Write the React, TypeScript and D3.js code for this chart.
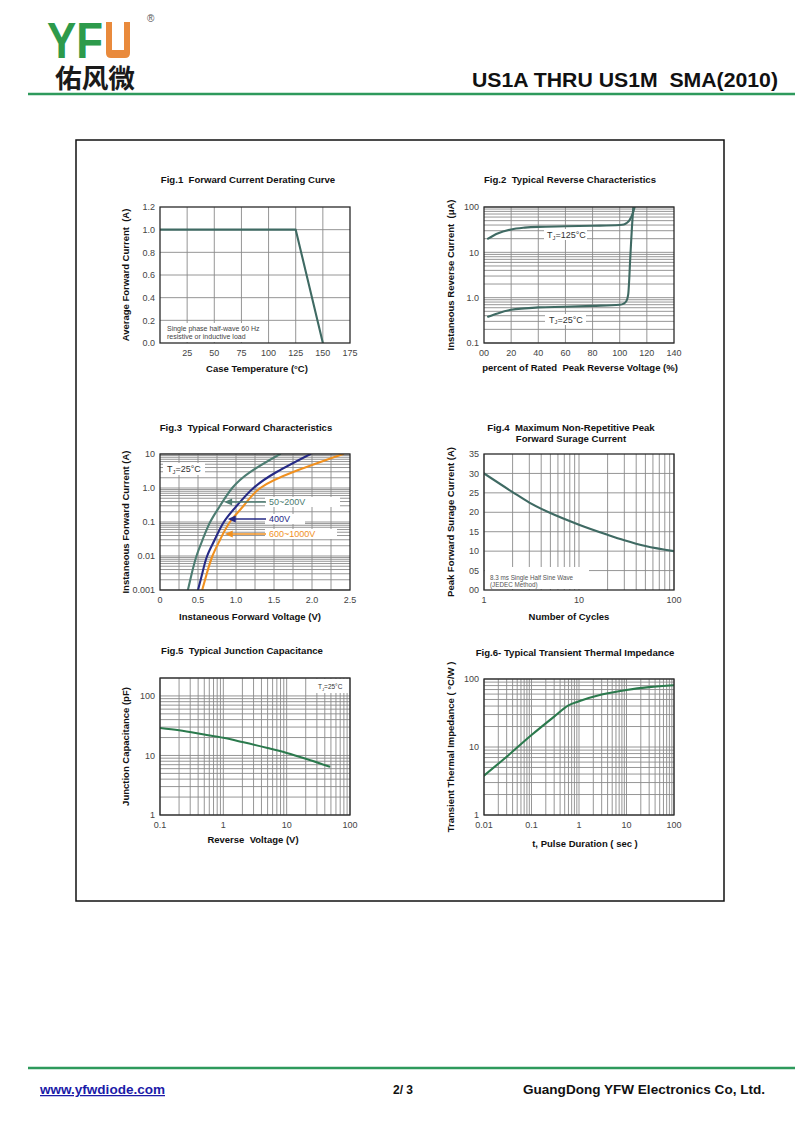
import React from 'react';
import * as d3 from 'd3';

// ---------- DATA ----------
// Fig.1 Forward current derating
const fig1Temp = [0, 125, 150];
const fig1Current = [1.0, 1.0, 0.0];
const fig1XTicks = [25, 50, 75, 100, 125, 150, 175];
const fig1YTicks = [0, 0.2, 0.4, 0.6, 0.8, 1.0, 1.2];
const fig1YLabels = ['0.0', '0.2', '0.4', '0.6', '0.8', '1.0', '1.2'];

// Fig.2 Typical reverse characteristics
const fig2Pct125 = [3, 10, 20, 30, 40, 60, 80, 100, 103, 105, 107, 108.5, 110, 111];
const fig2Cur125 = [20, 26, 32, 35, 36.5, 37.5, 38.5, 40, 41, 44, 50, 60, 78, 100];
const fig2Pct25 = [3, 10, 20, 30, 40, 60, 80, 100, 103, 105, 106.3, 107, 107.6, 108.3, 109, 110];
const fig2Cur25 = [0.38, 0.45, 0.54, 0.58, 0.61, 0.63, 0.66, 0.7, 0.74, 0.85, 1.2, 2.5, 6, 15, 35, 100];
const fig2XTicks = [0, 20, 40, 60, 80, 100, 120, 140];
const fig2XLabels = ['00', '20', '40', '60', '80', '100', '120', '140'];
const fig2YTicks = [0.1, 1, 10, 100];
const fig2YLabels = ['0.1', '1.0', '10', '100'];

// Fig.3 Typical forward characteristics
const fig3Amps = [0.001, 0.003, 0.01, 0.03, 0.1, 0.3, 1, 3, 10];
const fig3VoltsLow = [0.367, 0.417, 0.48, 0.56, 0.66, 0.79, 0.95, 1.19, 1.58];
const fig3Volts400 = [0.5, 0.555, 0.62, 0.72, 0.84, 1.01, 1.23, 1.54, 1.98];
const fig3VoltsHigh = [0.555, 0.615, 0.69, 0.79, 0.92, 1.1, 1.32, 1.76, 2.41];
const fig3XTicks = [0, 0.5, 1.0, 1.5, 2.0, 2.5];
const fig3XLabels = ['0', '0.5', '1.0', '1.5', '2.0', '2.5'];
const fig3YTicks = [0.001, 0.01, 0.1, 1, 10];
const fig3YLabels = ['0.001', '0.01', '0.1', '1.0', '10'];
const fig3Legend = ['50~200V', '400V', '600~1000V'];

// Fig.4 Max non-repetitive peak forward surge current
const fig4Cycles = [1, 2, 3, 5, 10, 20, 30, 50, 100];
const fig4Amps = [30, 25.2, 22.5, 19.8, 16.8, 14.2, 12.8, 11.3, 10];
const fig4XTicks = [1, 10, 100];
const fig4YTicks = [0, 5, 10, 15, 20, 25, 30, 35];
const fig4YLabels = ['00', '05', '10', '15', '20', '25', '30', '35'];

// Fig.5 Typical junction capacitance
const fig5Volts = [0.1, 0.2, 0.5, 1, 2, 5, 10, 20, 47];
const fig5Cap = [29, 26.5, 22.5, 19.8, 16.8, 13.3, 11, 8.8, 6.5];
const fig5XTicks = [0.1, 1, 10, 100];
const fig5YTicks = [1, 10, 100];

// Fig.6 Typical transient thermal impedance
const fig6Time = [0.01, 0.03, 0.1, 0.3, 0.6, 1, 3, 10, 30, 100];
const fig6Imp = [3.8, 7.2, 15, 28, 41, 47, 59, 69, 76, 81];
const fig6XTicks = [0.01, 0.1, 1, 10, 100];
const fig6YTicks = [1, 10, 100];

// ---------- STYLE ----------
const FONT = "'Liberation Sans', Arial, Helvetica, sans-serif";
const GRID = '#8a8a8a';
const CURVE = '#3f6a63';
const GREEN_CURVE = '#2b7a4d';
const F3_GREEN = '#4d7d72';
const F3_BLUE = '#262a86';
const F3_ORANGE = '#f0901f';

type Scale = any;
type Series = { xs: number[]; ys: number[]; color: string; kind?: 'linear' | 'mono' | 'smooth' };

interface PanelCfg {
  id: string;
  x0: number; x1: number; y0: number; y1: number;
  xLog: boolean; yLog: boolean;
  xDomain: [number, number]; yDomain: [number, number];
  xGrid: (sx: Scale) => number[];
  yGrid: (sy: Scale) => number[];
  xTicks: number[]; xLabels: string[];
  yTicks: number[]; yLabels: string[];
  title: string[]; titleX: number; titleY: number;
  xTitle: string; xTitleX: number; xTitleY: number;
  yTitle: string; yTitleX: number;
  series: Series[];
  back?: (sx: Scale, sy: Scale) => React.ReactNode;
  front?: (sx: Scale, sy: Scale) => React.ReactNode;
}

function Panel({ c }: { c: PanelCfg }) {
  const sx = (c.xLog ? d3.scaleLog() : d3.scaleLinear()).domain(c.xDomain).range([c.x0, c.x1]);
  const sy = (c.yLog ? d3.scaleLog() : d3.scaleLinear()).domain(c.yDomain).range([c.y1, c.y0]);
  const clip = `clip-${c.id}`;
  return (
    <g>
      <defs>
        <clipPath id={clip}>
          <rect x={c.x0} y={c.y0} width={c.x1 - c.x0} height={c.y1 - c.y0} />
        </clipPath>
      </defs>
      {c.title.map((t, i) => (
        <text key={i} x={c.titleX} y={c.titleY + i * 10.5} textAnchor="middle" fontFamily={FONT}
          fontWeight="bold" fontSize={9.6} fill="#111" xmlSpace="preserve">{t}</text>
      ))}
      <rect x={c.x0} y={c.y0} width={c.x1 - c.x0} height={c.y1 - c.y0} fill="#fff" />
      {c.xGrid(sx).map((v, i) => (
        <line key={'gx' + i} x1={sx(v)} x2={sx(v)} y1={c.y0} y2={c.y1} stroke={GRID} strokeWidth={0.9} />
      ))}
      {c.yGrid(sy).map((v, i) => (
        <line key={'gy' + i} x1={c.x0} x2={c.x1} y1={sy(v)} y2={sy(v)} stroke={GRID} strokeWidth={0.9} />
      ))}
      {c.back ? c.back(sx, sy) : null}
      <g clipPath={`url(#${clip})`}>
        {c.series.map((s, i) => {
          const curve = s.kind === 'linear' ? d3.curveLinear
            : s.kind === 'smooth' ? d3.curveNatural : d3.curveMonotoneX;
          const line = d3.line<number>()
            .x((_, k) => sx(s.xs[k]))
            .y((_, k) => sy(s.ys[k]))
            .curve(curve);
          return <path key={i} d={line(s.xs) || ''} fill="none" stroke={s.color} strokeWidth={2.1}
            strokeLinejoin="round" strokeLinecap="round" />;
        })}
      </g>
      <rect x={c.x0} y={c.y0} width={c.x1 - c.x0} height={c.y1 - c.y0} fill="none" stroke="#2a2a2a" strokeWidth={1.3} />
      {c.xTicks.map((v, i) => (
        <text key={'tx' + i} x={sx(v)} y={c.y1 + 12.5} textAnchor="middle" fontFamily={FONT}
          fontSize={9} fill="#444">{c.xLabels[i]}</text>
      ))}
      {c.yTicks.map((v, i) => (
        <text key={'ty' + i} x={c.x0 - 5} y={sy(v) + 3.2} textAnchor="end" fontFamily={FONT}
          fontSize={9} fill="#444">{c.yLabels[i]}</text>
      ))}
      <text x={c.xTitleX} y={c.xTitleY} textAnchor="middle" fontFamily={FONT} fontWeight="bold"
        fontSize={9.5} fill="#111" xmlSpace="preserve">{c.xTitle}</text>
      <text transform={`translate(${c.yTitleX},${(c.y0 + c.y1) / 2}) rotate(-90)`} textAnchor="middle"
        dominantBaseline="central" fontFamily={FONT} fontWeight="bold" fontSize={9.5} fill="#111"
        xmlSpace="preserve">{c.yTitle}</text>
      {c.front ? c.front(sx, sy) : null}
    </g>
  );
}

function TJ({ x, y, t, size }: { x: number; y: number; t: string; size: number }) {
  return (
    <text x={x} y={y} fontFamily={FONT} fontSize={size} fill="#333">
      T<tspan fontSize={size * 0.65} dy={1.5}>J</tspan><tspan dy={-1.5}>{t}</tspan>
    </text>
  );
}

// invert a log-y series at a given y value (piecewise in log space)
function xAtY(xs: number[], ys: number[], yv: number) {
  for (let i = 0; i < xs.length - 1; i++) {
    if (ys[i] <= yv && ys[i + 1] >= yv) {
      const t = (Math.log(yv) - Math.log(ys[i])) / (Math.log(ys[i + 1]) - Math.log(ys[i]));
      return xs[i] + t * (xs[i + 1] - xs[i]);
    }
  }
  return xs[0];
}

const logGrid = (s: Scale) => s.ticks();

const panels: PanelCfg[] = [
  {
    id: 'f1', x0: 160, x1: 350, y0: 207, y1: 343, xLog: false, yLog: false,
    xDomain: [0, 175], yDomain: [0, 1.2],
    xGrid: () => fig1XTicks.slice(0, -1), yGrid: () => fig1YTicks.slice(1, -1),
    xTicks: fig1XTicks, xLabels: fig1XTicks.map(String),
    yTicks: fig1YTicks, yLabels: fig1YLabels,
    title: ['Fig.1  Forward Current Derating Curve'], titleX: 248, titleY: 183,
    xTitle: 'Case Temperature (°C)', xTitleX: 257, xTitleY: 371.5,
    yTitle: 'Average Forward Current  (A)', yTitleX: 125,
    series: [{ xs: fig1Temp, ys: fig1Current, color: CURVE, kind: 'linear' }],
    back: () => <rect x={161} y={323} width={106} height={19} fill="#fff" />,
    front: () => (
      <g fontFamily={FONT} fontSize={7} fill="#444">
        <text x={167} y={330.5}>Single phase half-wave 60 Hz</text>
        <text x={167} y={338.5}>resistive or inductive load</text>
      </g>
    ),
  },
  {
    id: 'f2', x0: 484, x1: 674, y0: 207, y1: 343, xLog: false, yLog: true,
    xDomain: [0, 140], yDomain: [0.1, 100],
    xGrid: () => fig2XTicks.slice(1, -1), yGrid: logGrid,
    xTicks: fig2XTicks, xLabels: fig2XLabels,
    yTicks: fig2YTicks, yLabels: fig2YLabels,
    title: ['Fig.2  Typical Reverse Characteristics'], titleX: 570, titleY: 183,
    xTitle: 'percent of Rated  Peak Reverse Voltage (%)', xTitleX: 580, xTitleY: 371,
    yTitle: 'Instaneous Reverse Current  (μA)', yTitleX: 450,
    series: [
      { xs: fig2Pct125, ys: fig2Cur125, color: CURVE },
      { xs: fig2Pct25, ys: fig2Cur25, color: CURVE },
    ],
    back: () => (
      <g fill="#fff">
        <rect x={544} y={229} width={43} height={11} />
        <rect x={545} y={314} width={41} height={11} />
      </g>
    ),
    front: () => (
      <g>
        <TJ x={547} y={238} t="=125°C" size={9} />
        <TJ x={549} y={322.5} t="=25°C" size={9} />
      </g>
    ),
  },
  {
    id: 'f3', x0: 160, x1: 350, y0: 454, y1: 590, xLog: false, yLog: true,
    xDomain: [0, 2.5], yDomain: [0.001, 10],
    xGrid: () => d3.range(0.25, 2.5, 0.25), yGrid: logGrid,
    xTicks: fig3XTicks, xLabels: fig3XLabels,
    yTicks: fig3YTicks, yLabels: fig3YLabels,
    title: ['Fig.3  Typical Forward Characteristics'], titleX: 246, titleY: 431,
    xTitle: 'Instaneous Forward Voltage (V)', xTitleX: 250, xTitleY: 620,
    yTitle: 'Instaneous Forward Current (A)', yTitleX: 125,
    series: [
      { xs: fig3VoltsLow, ys: fig3Amps, color: F3_GREEN, kind: 'smooth' },
      { xs: fig3Volts400, ys: fig3Amps, color: F3_BLUE, kind: 'smooth' },
      { xs: fig3VoltsHigh, ys: fig3Amps, color: F3_ORANGE, kind: 'smooth' },
    ],
    back: () => (
      <g fill="#fff">
        <rect x={163} y={463} width={42} height={12} />
        <rect x={265} y={497} width={75} height={10} />
        <rect x={265} y={514} width={40} height={10} />
        <rect x={265} y={529} width={72} height={10} />
      </g>
    ),
    front: (sx, sy) => {
      const rows = [
        { y: 502, xs: fig3VoltsLow, color: F3_GREEN },
        { y: 519, xs: fig3Volts400, color: F3_BLUE },
        { y: 534, xs: fig3VoltsHigh, color: F3_ORANGE },
      ];
      return (
        <g>
          <TJ x={167} y={472} t="=25°C" size={9} />
          {rows.map((r, i) => {
            const tx = sx(xAtY(r.xs, fig3Amps, sy.invert(r.y))) + 1.5;
            return (
              <g key={i}>
                <line x1={tx + 6} x2={266} y1={r.y} y2={r.y} stroke={r.color} strokeWidth={1.6} />
                <polygon points={`${tx},${r.y} ${tx + 8},${r.y - 3.5} ${tx + 8},${r.y + 3.5}`} fill={r.color} />
                <text x={269} y={r.y + 3.2} fontFamily={FONT} fontSize={9} fill={r.color}>{fig3Legend[i]}</text>
              </g>
            );
          })}
        </g>
      );
    },
  },
  {
    id: 'f4', x0: 484, x1: 674, y0: 454, y1: 590, xLog: true, yLog: false,
    xDomain: [1, 100], yDomain: [0, 35],
    xGrid: logGrid, yGrid: () => fig4YTicks.slice(1, -1),
    xTicks: fig4XTicks, xLabels: fig4XTicks.map(String),
    yTicks: fig4YTicks, yLabels: fig4YLabels,
    title: ['Fig.4  Maximum Non-Repetitive Peak', 'Forward Surage Current'], titleX: 571, titleY: 431,
    xTitle: 'Number of Cycles', xTitleX: 569, xTitleY: 620,
    yTitle: 'Peak Forward Surage Current (A)', yTitleX: 450,
    series: [{ xs: fig4Cycles, ys: fig4Amps, color: CURVE }],
    back: () => <rect x={485} y={567} width={104} height={22} fill="#fff" />,
    front: () => (
      <g fontFamily={FONT} fontSize={6.3} fill="#555">
        <text x={490} y={580}>8.3 ms Single Half Sine Wave</text>
        <text x={490} y={587}>(JEDEC Method)</text>
      </g>
    ),
  },
  {
    id: 'f5', x0: 160, x1: 350, y0: 678, y1: 815, xLog: true, yLog: true,
    xDomain: [0.1, 100], yDomain: [1, 200],
    xGrid: logGrid, yGrid: logGrid,
    xTicks: fig5XTicks, xLabels: fig5XTicks.map(String),
    yTicks: fig5YTicks, yLabels: fig5YTicks.map(String),
    title: ['Fig.5  Typical Junction Capacitance'], titleX: 242, titleY: 654,
    xTitle: 'Reverse  Voltage (V)', xTitleX: 253, xTitleY: 843,
    yTitle: 'Junction Capacitance (pF)', yTitleX: 125,
    series: [{ xs: fig5Volts, ys: fig5Cap, color: GREEN_CURVE }],
    back: () => <rect x={313} y={679} width={36} height={14} fill="#fff" />,
    front: () => <TJ x={318} y={689} t="=25°C" size={6.5} />,
  },
  {
    id: 'f6', x0: 484, x1: 674, y0: 679, y1: 815, xLog: true, yLog: true,
    xDomain: [0.01, 100], yDomain: [1, 100],
    xGrid: logGrid, yGrid: logGrid,
    xTicks: fig6XTicks, xLabels: fig6XTicks.map(String),
    yTicks: fig6YTicks, yLabels: fig6YTicks.map(String),
    title: ['Fig.6- Typical Transient Thermal Impedance'], titleX: 575, titleY: 656,
    xTitle: 't, Pulse Duration ( sec )', xTitleX: 585, xTitleY: 847,
    yTitle: 'Transient Thermal Impedance ( °C/W )', yTitleX: 450,
    series: [{ xs: fig6Time, ys: fig6Imp, color: GREEN_CURVE }],
  },
];

export default function App() {
  return (
    <svg width={800} height={1130} viewBox="0 0 800 1130"
      style={{ position: 'absolute', left: 0, top: 0, background: '#fff' }}>
      <rect x={0} y={0} width={800} height={1130} fill="#fff" />
      {/* Header logo */}
      <text x={47} y={58} fontFamily={FONT} fontWeight={900} fontSize={50} fill="#2d9a4b"
        textLength={56} lengthAdjust="spacingAndGlyphs">YF</text>
      <path d="M106,22 H130 V53 Q130,58 125,58 H111 Q106,58 106,53 Z M112,22 V50 H124 V22 Z"
        fill="#e98a3c" fillRule="evenodd" />
      <text x={147} y={22} fontFamily={FONT} fontSize={10} fill="#555">®</text>
      <text x={55} y={88} fontFamily="'Noto Sans CJK SC', sans-serif" fontWeight={700} fontSize={26}
        fill="#1a1a1a" textLength={80} lengthAdjust="spacingAndGlyphs">佑风微</text>
      <text x={472} y={87} fontFamily={FONT} fontWeight="bold" fontSize={19.5} fill="#111"
        textLength={306} lengthAdjust="spacingAndGlyphs" xmlSpace="preserve">US1A THRU US1M  SMA(2010)</text>
      <line x1={28} x2={795} y1={94} y2={94} stroke="#2e9a5c" strokeWidth={2.6} />

      {/* Frame */}
      <rect x={76} y={140} width={648} height={761} fill="none" stroke="#111" strokeWidth={1.5} />

      {panels.map((p) => <Panel key={p.id} c={p} />)}

      {/* Footer */}
      <line x1={28} x2={795} y1={1068} y2={1068} stroke="#2e9a5c" strokeWidth={2.6} />
      <text x={40} y={1094} fontFamily={FONT} fontWeight="bold" fontSize={12.5} fill="#1b1ba8"
        textDecoration="underline" textLength={125} lengthAdjust="spacingAndGlyphs">www.yfwdiode.com</text>
      <text x={393} y={1094} fontFamily={FONT} fontWeight="bold" fontSize={12} fill="#111"
        xmlSpace="preserve">2/ 3</text>
      <text x={523} y={1094} fontFamily={FONT} fontWeight="bold" fontSize={13} fill="#111"
        textLength={242} lengthAdjust="spacingAndGlyphs">GuangDong YFW Electronics Co, Ltd.</text>
    </svg>
  );
}
